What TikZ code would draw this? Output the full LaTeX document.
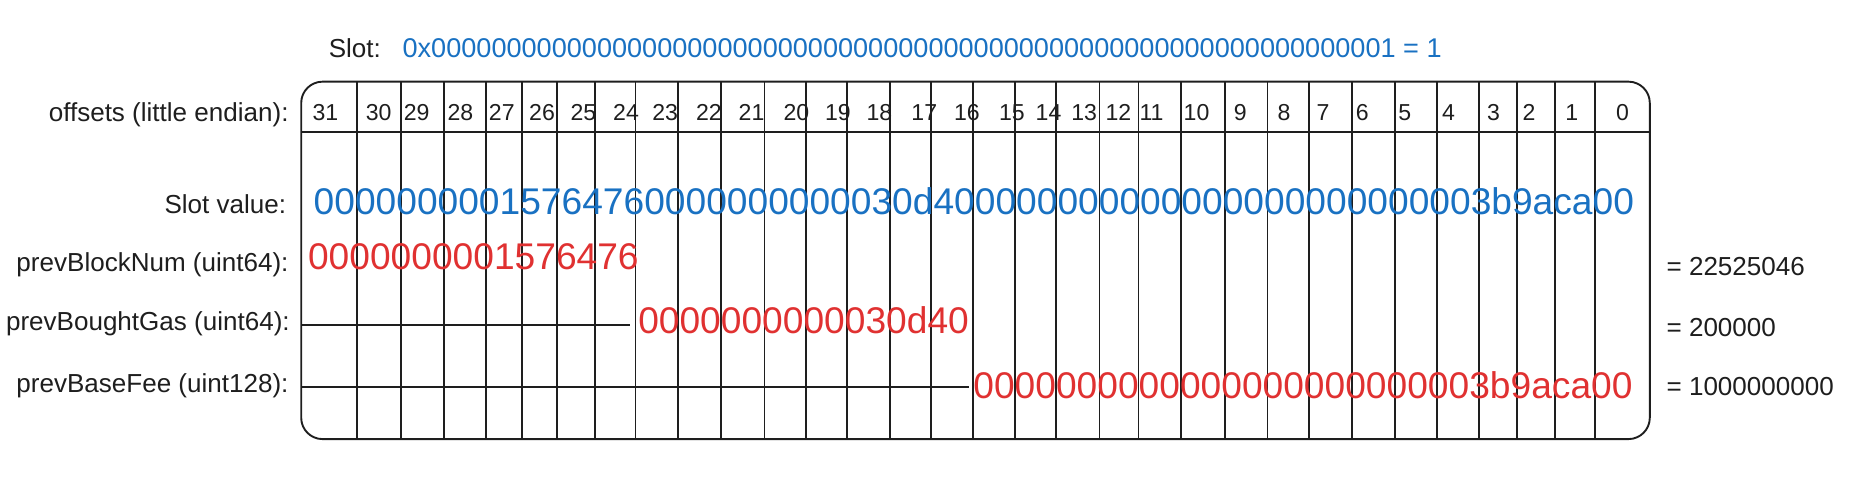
\documentclass[tikz,border=0pt]{standalone}
\usepackage{fontspec}
\setmainfont{Liberation Sans}
\definecolor{xblue}{RGB}{25,113,194}
\definecolor{xred}{RGB}{224,49,49}
\definecolor{ink}{RGB}{30,30,30}
\def\zzz{00000000}
\begin{document}
\begin{tikzpicture}[x=1pt,y=-1pt,
  lbl/.style={anchor=base east, font=\fontsize{22}{26}\selectfont, text=ink, inner sep=0pt},
  rlbl/.style={anchor=base west, font=\fontsize{22}{26}\selectfont, text=ink, inner sep=0pt},
  hdr/.style={anchor=base, font=\fontsize{19.5}{22}\selectfont, text=ink, inner sep=0pt},
  hexb/.style={anchor=base, font=\fontsize{31.4}{36}\selectfont, text=xblue, inner sep=0pt},
  hexr/.style={anchor=base, font=\fontsize{31.4}{36}\selectfont, text=xred, inner sep=0pt},
  gridline/.style={draw=ink, line width=1.6pt},
]
\useasboundingbox (0,0) rectangle (1575,410.6);

% top slot line
\node[lbl] (slotlbl) at (322,49) {Slot:};
\node[anchor=base west, font=\fontsize{22.9}{26}\selectfont, text=xblue, inner sep=0pt] (slothex) at (340,49)
  {0x\zzz\zzz\zzz\zzz\zzz\zzz\zzz00000001 = 1};

% box and grid
\draw[gridline, rounded corners=18pt] (254.5,69) rectangle (1394,371);
\coordinate (hl) at (254.5,111.5);
\coordinate (hr) at (1394,111.5);
\draw[gridline] (hl) -- (hr);
\foreach \x in {302,339,375,411,441,471,503,537,573,609,646,681,716,752,787,822,858,892,929,962,998,1035,1071,1106,1142,1179,1214,1250,1282,1314,1348}
  \draw[gridline] (\x,69) -- (\x,371);

% header offsets
\foreach \n/\x in {31/275,30/320,29/352,28/389,27/424,26/458,25/493,24/529,23/562,22/599,21/635,20/673,19/708,18/743,17/781,16/817,15/855,14/886,13/916,12/945,11/973,10/1011,9/1048,8/1085,7/1118,6/1151,5/1187,4/1224,3/1262,2/1292,1/1328,0/1371}
  \node[hdr] (h\n) at (\x,102) {\n};

% left labels
\node[lbl] (l0) at (244,103) {offsets (little endian):};
\node[lbl] (l1) at (242,180) {Slot value:};
\node[lbl] (l2) at (244,229) {prevBlockNum (uint64):};
\node[lbl] (l3) at (245,279) {prevBoughtGas (uint64):};
\node[lbl] (l4) at (244,332) {prevBaseFee (uint128):};

% values
\node[hexb] (slotval) at (823,181) {0000000001576476%
0000000000030d40%
\zzz\zzz\zzz%
3b9aca00};
\node[hexr] (blocknum) at (400,228) {0000000001576476};
\node[hexr] (boughtgas) at (679,282) {0000000000030d40};
\node[hexr] (basefee) at (1101,337) {\zzz\zzz\zzz3b9aca00};

% row filler lines
\coordinate (g0) at (254.5,274.5);
\coordinate (g1) at (532,274.5);
\coordinate (f0) at (254.5,327);
\coordinate (f1) at (819,327);
\draw[gridline] (g0) -- (g1);
\draw[gridline] (f0) -- (f1);

% right labels
\node[rlbl] (r2) at (1408,233) {= 22525046};
\node[rlbl] (r3) at (1408,284) {= 200000};
\node[rlbl] (r4) at (1408,334) {= 1000000000};
\end{tikzpicture}
\end{document}
